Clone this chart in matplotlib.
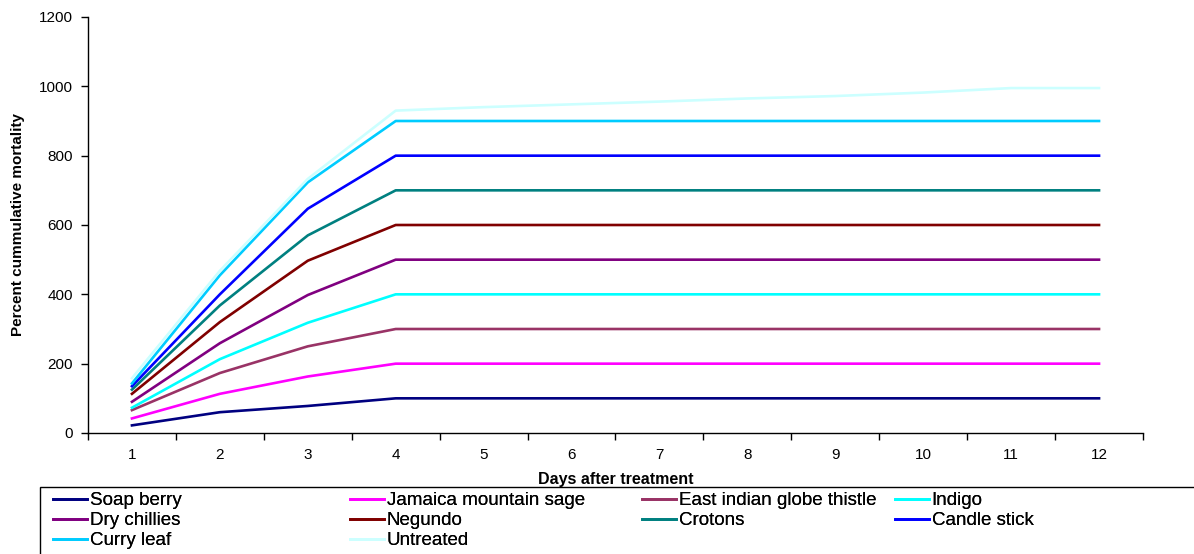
import matplotlib.pyplot as plt
import numpy as np
from matplotlib.lines import Line2D
from matplotlib.patches import Rectangle

plt.rcParams['font.family'] = ['Liberation Sans', 'DejaVu Sans']

# mortalidad acumulada (%) por tratamiento, dias 1 a 12
dias = list(range(1, 13))

soap_berry = [22, 60, 78, 100, 100, 100, 100, 100, 100, 100, 100, 100]
jamaica = [20, 53, 85, 100, 100, 100, 100, 100, 100, 100, 100, 100]
east_indian = [24, 60, 87, 100, 100, 100, 100, 100, 100, 100, 100, 100]
indigo = [7, 40, 68, 100, 100, 100, 100, 100, 100, 100, 100, 100]
dry_chillies = [17, 46, 80, 100, 100, 100, 100, 100, 100, 100, 100, 100]
negundo = [23, 61, 99, 100, 100, 100, 100, 100, 100, 100, 100, 100]
crotons = [12, 48, 73, 100, 100, 100, 100, 100, 100, 100, 100, 100]
candle_stick = [10, 32, 77, 100, 100, 100, 100, 100, 100, 100, 100, 100]
curry_leaf = [8, 55, 76, 100, 100, 100, 100, 100, 100, 100, 100, 100]
untreated = [15, 13, 10, 30, 40, 48, 56, 65, 72, 82, 95, 95]

nombres = ['Soap berry', 'Jamaica mountain sage', 'East indian globe thistle', 'Indigo',
           'Dry chillies', 'Negundo', 'Crotons', 'Candle stick', 'Curry leaf', 'Untreated']
series = [soap_berry, jamaica, east_indian, indigo, dry_chillies,
          negundo, crotons, candle_stick, curry_leaf, untreated]
colores = ['#000080', '#FF00FF', '#993366', '#00FFFF', '#800080',
           '#800000', '#008080', '#0000FF', '#00CCFF', '#CCFFFF']

# lineas apiladas
apilado = np.cumsum(np.array(series), axis=0)

fig = plt.figure(figsize=(11.94, 5.54), dpi=100)
ax = fig.add_axes([88 / 1194, 121 / 554, 1055 / 1194, 416 / 554])

for fila, color in zip(apilado, colores):
    ax.plot(dias, fila, color=color, linewidth=1.9)

ax.set_xlim(0.5, 12.5)
ax.set_ylim(0, 1200)
ax.set_yticks(range(0, 1201, 200))
ax.set_xticks(np.arange(0.5, 13, 1))
ax.set_xticklabels([])
ax.set_xticks(dias, minor=True)
ax.set_xticklabels([str(d) for d in dias], minor=True)
ax.tick_params(axis='x', which='major', direction='out', length=5, width=1)
ax.tick_params(axis='x', which='minor', length=0, pad=11, labelsize=11)
ax.tick_params(axis='y', direction='out', length=5, width=1, pad=6, labelsize=11)
for lado in ['top', 'right']:
    ax.spines[lado].set_visible(False)
for lado in ['left', 'bottom']:
    ax.spines[lado].set_linewidth(1)

ax.set_xlabel('Days after treatment', fontsize=11.5, fontweight='bold', labelpad=7)
ax.set_ylabel('Percent cummulative mortality', fontsize=11, fontweight='bold', labelpad=10)

# leyenda en cuatro columnas dentro de un marco
fig.add_artist(Rectangle((40 / 1194, -0.05), 1.1, (554 - 487) / 554 + 0.05,
                         transform=fig.transFigure, fill=False,
                         edgecolor='black', linewidth=1))
columnas_x = [53, 350, 642, 895]
columnas = [[0, 4, 8], [1, 5, 9], [2, 6], [3, 7]]
for x0, idx in zip(columnas_x, columnas):
    manijas = [Line2D([], [], color=colores[i], linewidth=2) for i in idx]
    leg = fig.legend(manijas, [nombres[i] for i in idx], loc='upper left',
                     bbox_to_anchor=(x0 / 1194, (554 - 492) / 554),
                     frameon=False, fontsize=13.5, handlelength=1.8,
                     handletextpad=0.15, labelspacing=0.16, borderpad=0,
                     borderaxespad=0)
    fig.add_artist(leg)

plt.savefig('out.png', dpi=100)
